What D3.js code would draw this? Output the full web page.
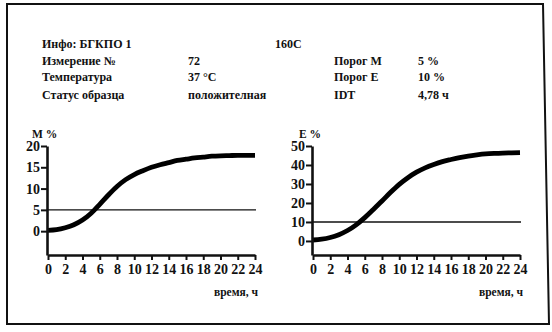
<!DOCTYPE html>
<html><head><meta charset="utf-8">
<script src="https://cdn.jsdelivr.net/npm/d3@7"></script>
<style>
html,body{margin:0;padding:0;background:#fff;}
svg{display:block;}
svg text{font-family:"Liberation Serif","DejaVu Serif","Times New Roman",serif !important;font-weight:bold;fill:#111;}
</style></head>
<body>
<svg id="c" width="552" height="332"></svg>
<script>
// Data
const hours = [0,1,2,3,4,5,6,7,8,9,10,11,12,13,14,15,16,17,18,19,20,21,22,23,24];
const mValues = [0.2,0.35,0.8,1.5,2.6,4.2,6.3,8.5,10.5,12.1,13.3,14.2,15.0,15.6,16.1,16.6,16.9,17.2,17.4,17.6,17.7,17.75,17.8,17.8,17.8];
const eValues = [0.5,0.9,1.8,3.3,5.5,8.5,12.3,16.6,21.0,25.6,29.8,33.3,36.2,38.5,40.3,41.8,42.9,43.9,44.7,45.3,45.8,46.1,46.3,46.4,46.5];
const xTicks = [0,2,4,6,8,10,12,14,16,18,20,22,24];
const mTicks = [0,5,10,15,20];
const eTicks = [0,10,20,30,40,50];
const mThreshold = 5;
const eThreshold = 10;
const infoRows = [
  ["Инфо: БГКПО 1", "", "160C", ""],
  ["Измерение №", "72", "Порог M", "5 %"],
  ["Температура", "37 °C", "Порог E", "10 %"],
  ["Статус образца", "положителная", "IDT", "4,78 ч"]
];

const FONT = '"Liberation Serif","DejaVu Serif",serif';
const svg = d3.select("#c");

// frame
svg.append("path")
  .attr("d","M7,4 L543,4 L549,324 L7,324 Z")
  .attr("fill","none").attr("stroke","#111").attr("stroke-width",2);

// info block
const colX = [42, 188, 334, 418];
const rowY = [48, 65, 81, 99];
infoRows.forEach((r,i)=>{
  r.forEach((t,j)=>{
    if(!t) return;
    let x = colX[j];
    if(i===0 && j===2) x = 275;
    svg.append("text").attr("x",x).attr("y",rowY[i])
      .style("font-family",FONT).style("font-weight","bold")
      .attr("font-size",12).text(t);
  });
});

function chart(opts){
  const x = d3.scaleLinear().domain([0,24]).range(opts.xr);
  const y = d3.scaleLinear().domain(opts.yd).range([255,146]);
  const g = svg.append("g");

  // threshold
  g.append("line")
    .attr("x1",x(0)).attr("x2",x(24)+1)
    .attr("y1",y(opts.thr)).attr("y2",y(opts.thr))
    .attr("stroke","#111").attr("stroke-width",1.4);

  // curve
  const line = d3.line().x((d,i)=>x(hours[i])).y(d=>y(d)).curve(d3.curveMonotoneX);
  g.append("path").datum(opts.vals).attr("d",line)
    .attr("fill","none").attr("stroke","#000").attr("stroke-width",4.8)
    .attr("stroke-linecap","butt");

  // axes
  const ya = g.append("g").attr("transform",`translate(${x(0)-1},0)`)
    .call(d3.axisLeft(y).tickValues(opts.ticks).tickSize(6).tickSizeOuter(0).tickPadding(1).tickFormat(d3.format("d")));
  const xa = g.append("g").attr("transform",`translate(0,255)`)
    .call(d3.axisBottom(x).tickValues(xTicks).tickSize(5).tickSizeOuter(0).tickPadding(4).tickFormat(d3.format("d")));
  [ya,xa].forEach(a=>{
    a.attr("font-family",FONT);
    a.select(".domain").attr("stroke","#111").attr("stroke-width",2.6);
    a.selectAll(".tick line").attr("stroke","#111").attr("stroke-width",2);
    a.selectAll(".tick text").attr("font-size",14)
      .style("font-family",FONT).style("font-weight","bold").attr("fill","#111");
  });

  g.append("text").attr("x",opts.labX).attr("y",138).attr("font-size",11.5)
    .style("font-family",FONT).style("font-weight","bold").text(opts.label);
  g.append("text").attr("x",x(24)+3).attr("y",296).attr("text-anchor","end")
    .style("font-family",FONT).style("font-weight","bold")
    .attr("font-size",11.5).text("время, ч");
}

chart({xr:[48,255], yd:[-5.6,20], ticks:mTicks, vals:mValues, thr:mThreshold, label:"M %", labX:32});
chart({xr:[313,520], yd:[-7.4,50], ticks:eTicks, vals:eValues, thr:eThreshold, label:"E %", labX:299});
</script>
</body></html>
